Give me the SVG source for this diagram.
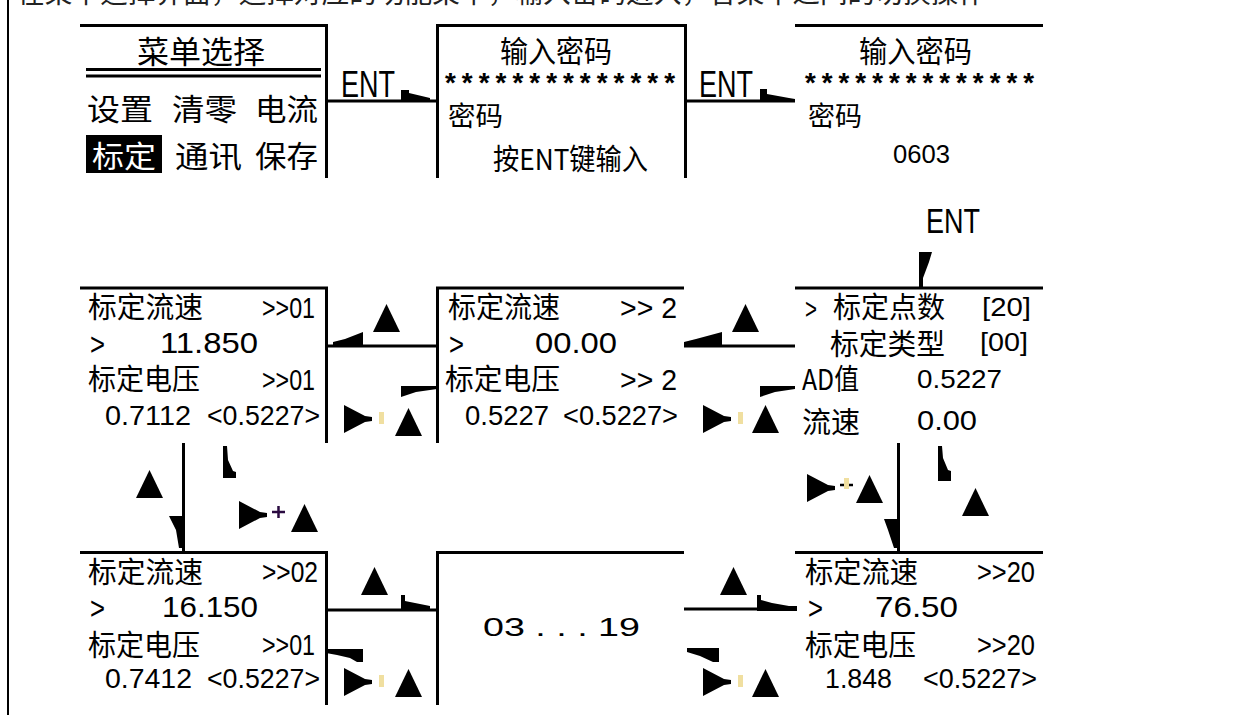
<svg xmlns="http://www.w3.org/2000/svg" width="1249" height="715" viewBox="0 0 1249 715">
<defs>
<style>
.cj{font-family:"Noto Sans CJK SC","Noto Sans CJK JP",sans-serif;fill:#000}
.la{font-family:"Liberation Sans",Arial,sans-serif;fill:#000}
.mo{font-family:"Liberation Mono","Courier New",monospace;fill:#000;font-weight:bold}
.hd{font-family:"Noto Sans CJK SC",sans-serif;fill:#222}
.bd{stroke:#000;stroke-width:3;fill:none}
.cn{stroke:#000;stroke-width:3;fill:none}
.wd{fill:#000}
.pl{fill:#f0dfa0}
</style>
<path id="up" d="M13.5,0 L27,28 L0,28 Z"/>
<path id="rt" d="M0,0 L21,11 L28,12 L28,16 L21,17 L0,28 Z"/>
</defs>
<rect x="0" y="0" width="1249" height="715" fill="#fff"/>
<rect x="7" y="0" width="2" height="715" fill="#000"/>
<text class="hd" x="17" y="3" font-size="28" textLength="969" lengthAdjust="spacingAndGlyphs">在菜单选择界面，选择对应的功能菜单，输入密码进入，各菜单之间的切换操作</text>

<g id="menu">
<line class="bd" x1="80" y1="25.5" x2="328" y2="25.5"/>
<line class="bd" x1="326.5" y1="25" x2="326.5" y2="178"/>
<text class="cj" x="137" y="62.5" font-size="31" textLength="128" lengthAdjust="spacingAndGlyphs">菜单选择</text>
<rect x="86" y="68" width="235" height="3"/>
<rect x="86" y="74.5" width="235" height="3"/>
<text class="cj" x="87" y="119.5" font-size="30" textLength="66" lengthAdjust="spacingAndGlyphs">设置</text>
<text class="cj" x="172" y="119.5" font-size="30" textLength="65" lengthAdjust="spacingAndGlyphs">清零</text>
<text class="cj" x="255" y="119.5" font-size="30" textLength="63" lengthAdjust="spacingAndGlyphs">电流</text>
<rect x="86" y="135" width="76" height="38"/>
<text class="cj" x="92" y="166.5" font-size="30" textLength="64" lengthAdjust="spacingAndGlyphs" style="fill:#fff">标定</text>
<text class="cj" x="175" y="166.5" font-size="30" textLength="67" lengthAdjust="spacingAndGlyphs">通讯</text>
<text class="cj" x="255" y="166.5" font-size="30" textLength="63" lengthAdjust="spacingAndGlyphs">保存</text>
</g>

<g id="password-entry">
<line class="bd" x1="436" y1="25.5" x2="687" y2="25.5"/>
<line class="bd" x1="437.5" y1="25" x2="437.5" y2="178"/>
<line class="bd" x1="685.5" y1="25" x2="685.5" y2="178"/>
<text class="cj" x="500" y="62" font-size="30" textLength="112" lengthAdjust="spacingAndGlyphs">输入密码</text>
<text class="mo" x="442" y="93" font-size="28" textLength="236" lengthAdjust="spacingAndGlyphs">**************</text>
<text class="cj" x="448" y="125.5" font-size="27" textLength="55" lengthAdjust="spacingAndGlyphs">密码</text>
<text class="cj" x="493" y="169.5" font-size="29" textLength="155" lengthAdjust="spacingAndGlyphs">按ENT键输入</text>
</g>

<g id="password-value">
<line class="bd" x1="795" y1="25.5" x2="1043" y2="25.5"/>
<text class="cj" x="859" y="62" font-size="30" textLength="113" lengthAdjust="spacingAndGlyphs">输入密码</text>
<text class="mo" x="802" y="93" font-size="28" textLength="235" lengthAdjust="spacingAndGlyphs">**************</text>
<text class="cj" x="808" y="125.5" font-size="27" textLength="54" lengthAdjust="spacingAndGlyphs">密码</text>
<text class="la" x="893" y="163" font-size="25" textLength="57" lengthAdjust="spacingAndGlyphs">0603</text>
</g>

<g id="cal-point-1">
<line class="bd" x1="80" y1="288" x2="328" y2="288"/>
<line class="bd" x1="326.5" y1="287" x2="326.5" y2="443"/>
<text class="cj" x="88" y="317.5" font-size="29" textLength="115" lengthAdjust="spacingAndGlyphs">标定流速</text>
<text class="la" x="262" y="318" font-size="30" textLength="53" lengthAdjust="spacingAndGlyphs">&gt;&gt;01</text>
<text class="la" x="90" y="355" font-size="32" textLength="15" lengthAdjust="spacingAndGlyphs">&gt;</text>
<text class="la" x="160" y="353" font-size="30" textLength="98" lengthAdjust="spacingAndGlyphs">11.850</text>
<text class="cj" x="88" y="389.5" font-size="29" textLength="112" lengthAdjust="spacingAndGlyphs">标定电压</text>
<text class="la" x="262" y="390" font-size="29" textLength="53" lengthAdjust="spacingAndGlyphs">&gt;&gt;01</text>
<text class="la" x="105" y="425" font-size="27" textLength="86" lengthAdjust="spacingAndGlyphs">0.7112</text>
<text class="la" x="207" y="425" font-size="27" textLength="113" lengthAdjust="spacingAndGlyphs">&lt;0.5227&gt;</text>
</g>

<g id="cal-point-2">
<line class="bd" x1="436" y1="288" x2="684" y2="288"/>
<line class="bd" x1="437.5" y1="287" x2="437.5" y2="443"/>
<text class="cj" x="448" y="317.5" font-size="29" textLength="112" lengthAdjust="spacingAndGlyphs">标定流速</text>
<text class="la" x="620" y="318" font-size="30" textLength="57" lengthAdjust="spacingAndGlyphs">&gt;&gt; 2</text>
<text class="la" x="449" y="355" font-size="32" textLength="15" lengthAdjust="spacingAndGlyphs">&gt;</text>
<text class="la" x="535" y="353" font-size="30" textLength="82" lengthAdjust="spacingAndGlyphs">00.00</text>
<text class="cj" x="445" y="389.5" font-size="29" textLength="115" lengthAdjust="spacingAndGlyphs">标定电压</text>
<text class="la" x="620" y="390" font-size="29" textLength="57" lengthAdjust="spacingAndGlyphs">&gt;&gt; 2</text>
<text class="la" x="465" y="425" font-size="27" textLength="84" lengthAdjust="spacingAndGlyphs">0.5227</text>
<text class="la" x="563" y="425" font-size="27" textLength="115" lengthAdjust="spacingAndGlyphs">&lt;0.5227&gt;</text>
</g>

<g id="cal-settings">
<line class="bd" x1="795" y1="288" x2="1043" y2="288"/>
<text class="la" x="805" y="319" font-size="30" textLength="12" lengthAdjust="spacingAndGlyphs">&gt;</text>
<text class="cj" x="833" y="317.5" font-size="29" textLength="112" lengthAdjust="spacingAndGlyphs">标定点数</text>
<text class="la" x="982" y="316" font-size="26" textLength="49" lengthAdjust="spacingAndGlyphs">[20]</text>
<text class="cj" x="830" y="354.5" font-size="29" textLength="115" lengthAdjust="spacingAndGlyphs">标定类型</text>
<text class="la" x="980" y="351" font-size="26" textLength="48" lengthAdjust="spacingAndGlyphs">[00]</text>
<text class="cj" x="802" y="389.5" font-size="29" textLength="57" lengthAdjust="spacingAndGlyphs">AD值</text>
<text class="la" x="917" y="388" font-size="25" textLength="85" lengthAdjust="spacingAndGlyphs">0.5227</text>
<text class="cj" x="802" y="432.5" font-size="29" textLength="58" lengthAdjust="spacingAndGlyphs">流速</text>
<text class="la" x="917" y="430" font-size="27" textLength="60" lengthAdjust="spacingAndGlyphs">0.00</text>
</g>

<g id="cal-point-2-bottom">
<line class="bd" x1="80" y1="552.5" x2="328" y2="552.5"/>
<line class="bd" x1="326.5" y1="552" x2="326.5" y2="705"/>
<text class="cj" x="88" y="582.5" font-size="29" textLength="115" lengthAdjust="spacingAndGlyphs">标定流速</text>
<text class="la" x="262" y="582" font-size="30" textLength="56" lengthAdjust="spacingAndGlyphs">&gt;&gt;02</text>
<text class="la" x="90" y="619" font-size="32" textLength="15" lengthAdjust="spacingAndGlyphs">&gt;</text>
<text class="la" x="162" y="617" font-size="30" textLength="96" lengthAdjust="spacingAndGlyphs">16.150</text>
<text class="cj" x="88" y="655.5" font-size="29" textLength="112" lengthAdjust="spacingAndGlyphs">标定电压</text>
<text class="la" x="262" y="655" font-size="29" textLength="53" lengthAdjust="spacingAndGlyphs">&gt;&gt;01</text>
<text class="la" x="105" y="688" font-size="27" textLength="87" lengthAdjust="spacingAndGlyphs">0.7412</text>
<text class="la" x="207" y="688" font-size="27" textLength="113" lengthAdjust="spacingAndGlyphs">&lt;0.5227&gt;</text>
</g>

<g id="cal-points-3-19">
<line class="bd" x1="436" y1="552.5" x2="684" y2="552.5"/>
<line class="bd" x1="437.5" y1="552" x2="437.5" y2="705"/>
<text class="la" x="483" y="636" font-size="26" textLength="157" lengthAdjust="spacingAndGlyphs">03 . . . 19</text>
</g>

<g id="cal-point-20">
<line class="bd" x1="795" y1="552.5" x2="1043" y2="552.5"/>
<text class="cj" x="805" y="582.5" font-size="29" textLength="113" lengthAdjust="spacingAndGlyphs">标定流速</text>
<text class="la" x="977" y="582" font-size="30" textLength="58" lengthAdjust="spacingAndGlyphs">&gt;&gt;20</text>
<text class="la" x="808" y="619" font-size="32" textLength="15" lengthAdjust="spacingAndGlyphs">&gt;</text>
<text class="la" x="875" y="617" font-size="30" textLength="83" lengthAdjust="spacingAndGlyphs">76.50</text>
<text class="cj" x="805" y="655.5" font-size="29" textLength="111" lengthAdjust="spacingAndGlyphs">标定电压</text>
<text class="la" x="977" y="655" font-size="29" textLength="58" lengthAdjust="spacingAndGlyphs">&gt;&gt;20</text>
<text class="la" x="825" y="688" font-size="27" textLength="67" lengthAdjust="spacingAndGlyphs">1.848</text>
<text class="la" x="923" y="688" font-size="27" textLength="114" lengthAdjust="spacingAndGlyphs">&lt;0.5227&gt;</text>
</g>

<g id="connectors">
<line class="cn" x1="326" y1="101" x2="437" y2="101"/>
<polygon class="wd" points="401,90 409,90 409,93 430,98 430,102 401,102"/>
<text class="la" x="341" y="97" font-size="36" textLength="54" lengthAdjust="spacingAndGlyphs">ENT</text>
<line class="cn" x1="686" y1="101" x2="795" y2="101"/>
<polygon class="wd" points="760,89 767,89 767,94 789,98 795,99 795,102 760,102"/>
<text class="la" x="699" y="97" font-size="36" textLength="54" lengthAdjust="spacingAndGlyphs">ENT</text>
<text class="la" x="926" y="233" font-size="35" textLength="54" lengthAdjust="spacingAndGlyphs">ENT</text>
<polygon class="wd" points="919,252 932,252 929,262 926,270 923,278 923,288 919,288"/>
<line class="cn" x1="326" y1="346" x2="437" y2="346"/>
<polygon class="wd" points="333,346 333,342 345,339 363,332 363,346"/>
<use href="#up" x="373" y="304"/>
<polygon class="wd" points="401,386 437,386 437,389 416,392 401,397"/>
<use href="#rt" x="344" y="405"/>
<rect class="pl" x="379" y="412" width="5" height="12"/>
<use href="#up" x="395" y="408"/>
<line class="cn" x1="684" y1="346" x2="795" y2="346"/>
<polygon class="wd" points="684,346 684,342 696,339 722,332 722,346"/>
<use href="#up" x="732" y="304"/>
<polygon class="wd" points="760,386 795,386 795,389 775,392 760,397"/>
<use href="#rt" x="703" y="405"/>
<rect class="pl" x="738" y="412" width="5" height="12"/>
<use href="#up" x="752" y="405"/>
<line class="cn" x1="183.5" y1="443" x2="183.5" y2="552"/>
<polygon class="wd" points="169,516 185,516 185,548 179,548 176,530"/>
<use href="#up" x="136" y="470"/>
<polygon class="wd" points="223,446 227,446 228,460 233,471 236,472 236,478 223,478"/>
<use href="#rt" x="239" y="501"/>
<path d="M272,512 H285 M278.5,506 V518" stroke="#2a0a40" stroke-width="2.5" fill="none"/>
<use href="#up" x="291" y="504"/>
<line class="cn" x1="898.5" y1="443" x2="898.5" y2="552"/>
<polygon class="wd" points="884,519 900,519 900,548 894,548 888,530"/>
<use href="#rt" x="807" y="474"/>
<path d="M840,485 H853" stroke="#000" stroke-width="2.5" fill="none"/>
<rect class="pl" x="844" y="478" width="5" height="11"/>
<use href="#up" x="856" y="475"/>
<polygon class="wd" points="938,446 942,446 943,458 948,470 951,471 951,481 938,481"/>
<use href="#up" x="962" y="488"/>
<use href="#up" x="361" y="567"/>
<line class="cn" x1="326" y1="610" x2="437" y2="610"/>
<polygon class="wd" points="401,595 405,595 405,601 420,604 430,606 430,611 401,611"/>
<polygon class="wd" points="326,649 363,649 363,662 357,662 350,658 337,655 326,653"/>
<use href="#rt" x="344" y="668"/>
<rect class="pl" x="379" y="675" width="5" height="12"/>
<use href="#up" x="395" y="669"/>
<use href="#up" x="720" y="567"/>
<line class="cn" x1="684" y1="609" x2="797" y2="609"/>
<polygon class="wd" points="757,595 761,595 761,600 772,603 789,606 797,606 797,611 757,611"/>
<polygon class="wd" points="687,648 719,648 719,662 713,662 700,656 687,652"/>
<use href="#rt" x="703" y="668"/>
<rect class="pl" x="738" y="675" width="5" height="12"/>
<use href="#up" x="752" y="669"/>
</g>
</svg>
